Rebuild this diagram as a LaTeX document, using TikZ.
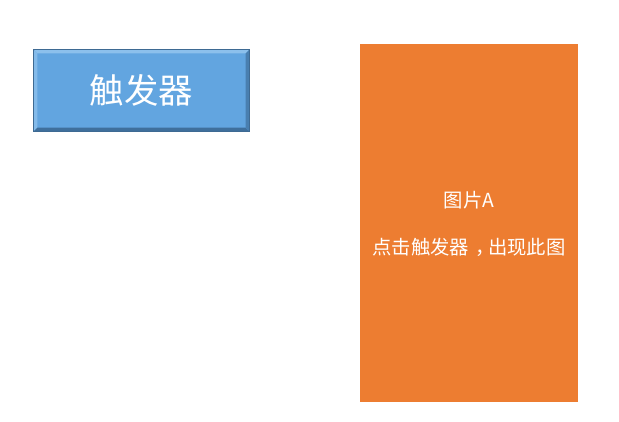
\documentclass[tikz,border=0pt]{standalone}
\usepackage{fontspec}
\newfontfamily\cjk{Noto Sans CJK SC}
\usetikzlibrary{calc}
\definecolor{btnblue}{HTML}{62A5E0}
\definecolor{btnedge}{HTML}{3E6A93}
\definecolor{btnlight}{HTML}{8CC0EC}
\definecolor{btndark}{HTML}{3F6F9C}
\definecolor{picorange}{HTML}{ED7D31}
\tikzset{
  btn/.style={draw=btnedge,line width=0.9pt,fill=btnblue,minimum width=161.25pt,minimum height=60.75pt,text=white,font=\cjk\fontsize{25.8}{30}\selectfont},
  pic/.style={fill=picorange,minimum width=163.5pt,minimum height=268.5pt},
  pictxt/.style={text=white,font=\cjk\fontsize{14.5}{17}\selectfont}
}
\begin{document}
\begin{tikzpicture}[x=0.75pt,y=-0.75pt,inner sep=0pt]
\useasboundingbox (0,0) rectangle (619,422);
% trigger button
\draw node [btn] (T1) at (141.5,90.5) {};
\fill [btnlight] (T1.north west) -- (T1.north east) -- ($ (T1.north east) + (-4,4) $) -- ($ (T1.north west) + (4,4) $) -- cycle;
\fill [btnlight!80!btnblue] (T1.north west) -- ($ (T1.north west) + (4,4) $) -- ($ (T1.south west) + (4,-4) $) -- (T1.south west) -- cycle;
\fill [btndark] (T1.south west) -- (T1.south east) -- ($ (T1.south east) + (-4,-4) $) -- ($ (T1.south west) + (4,-4) $) -- cycle;
\fill [btndark!70!btnblue] (T1.north east) -- ($ (T1.north east) + (-4,4) $) -- ($ (T1.south east) + (-4,-4) $) -- (T1.south east) -- cycle;
\draw [btnedge,line width=0.9pt] (T1.north west) rectangle (T1.south east);
\draw node [btn,draw=none,fill=none] (T1t) at (T1.center) {触发器};
% picture A
\draw node [pic] (P1) at (469,223) {};
\draw node [pictxt] (P1a) at ($ (P1.center) + (0,-23) $) {图片A};
\draw node [pictxt] (P1b) at ($ (P1.center) + (0,24) $) {点击触发器\kern0.35em，\kern-0.35em出现此图};
\end{tikzpicture}
\end{document}
